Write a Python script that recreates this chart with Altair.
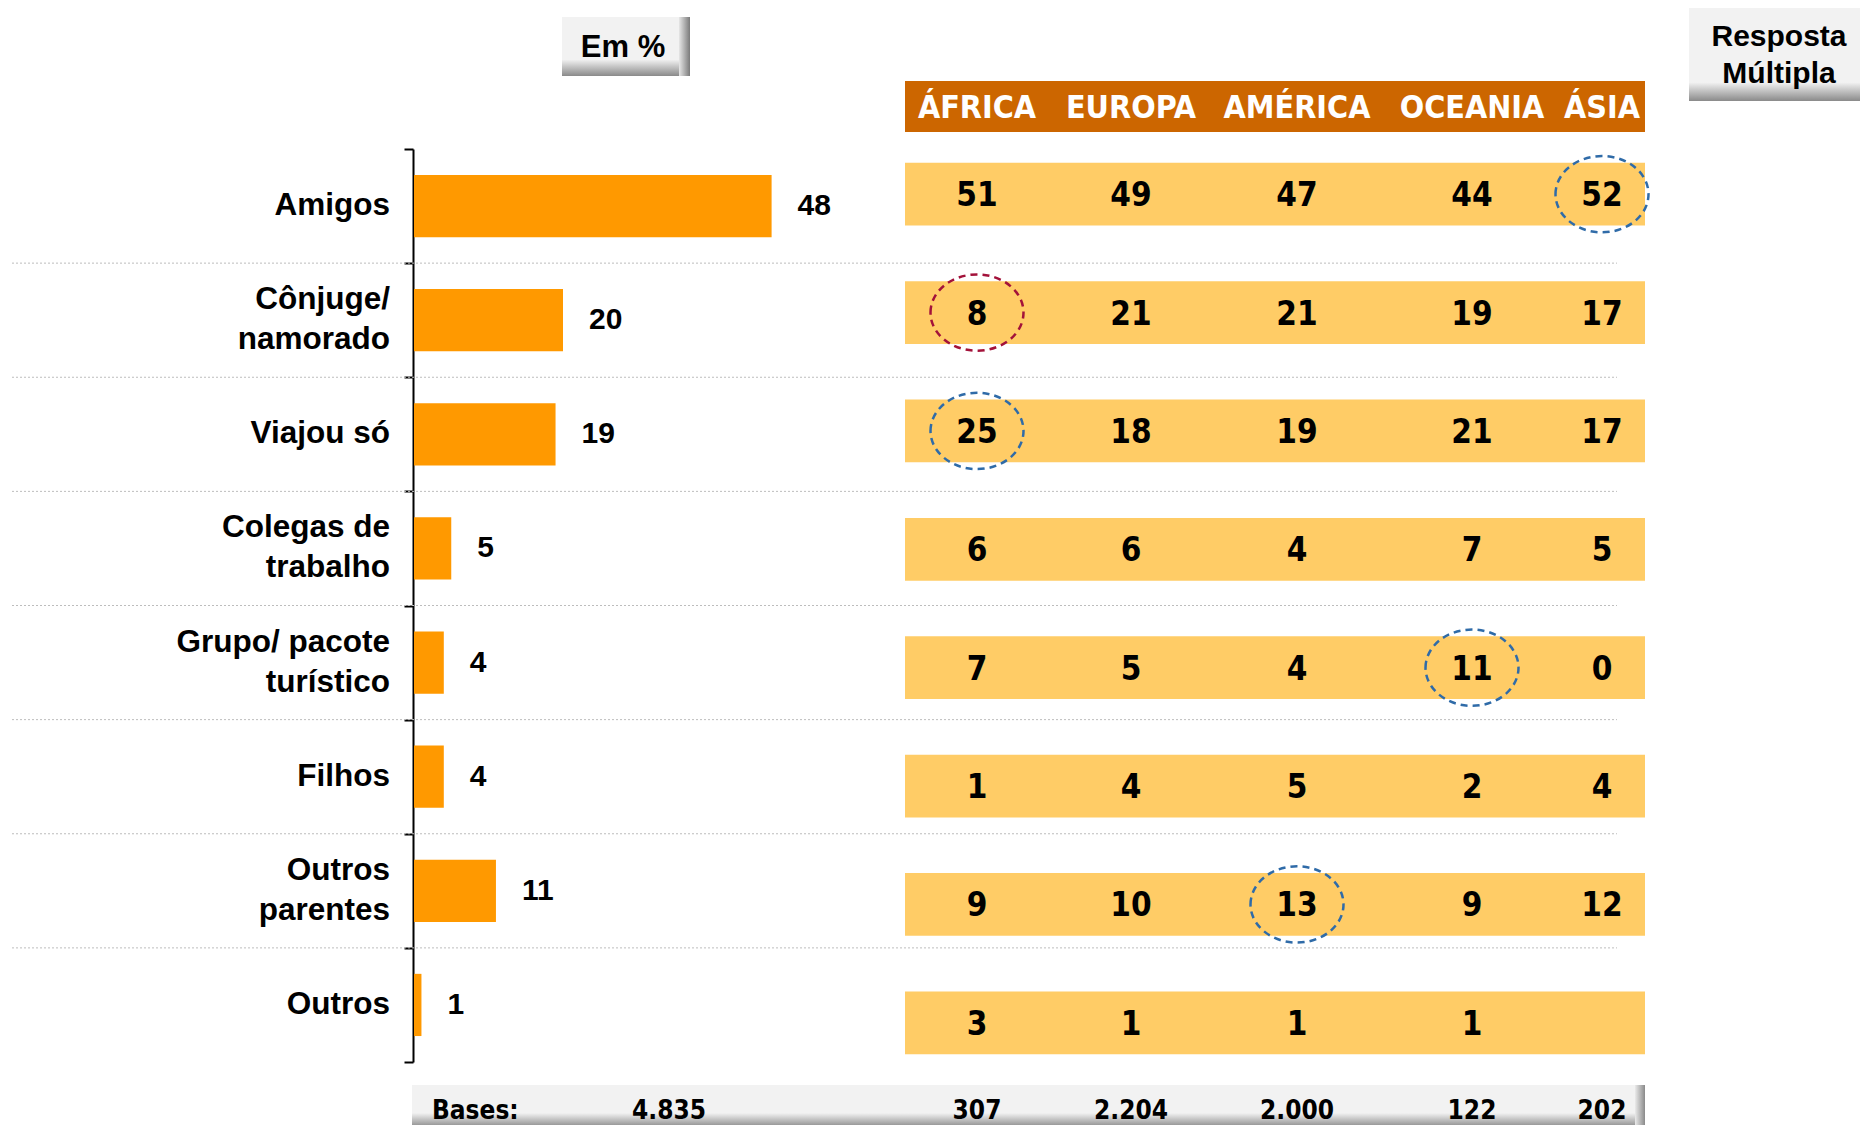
import altair as alt
import pandas as pd

# ---------------- data ----------------
categories = ["Amigos", "Cônjuge/\nnamorado", "Viajou só", "Colegas de\ntrabalho",
              "Grupo/ pacote\nturístico", "Filhos", "Outros\nparentes", "Outros"]
total = [48, 20, 19, 5, 4, 4, 11, 1]

regions = ["ÁFRICA", "EUROPA", "AMÉRICA", "OCEANIA", "ÁSIA"]
africa = [51, 8, 25, 6, 7, 1, 9, 3]
europa = [49, 21, 18, 6, 5, 4, 10, 1]
america = [47, 21, 19, 4, 4, 5, 13, 1]
oceania = [44, 19, 21, 7, 11, 2, 9, 1]
asia = [52, 17, 17, 5, 0, 4, 12, None]

base_label = "Bases:"
base_total = "4.835"
base_regions = ["307", "2.204", "2.000", "122", "202"]

highlight_cats = ["Amigos", "Viajou só", "Grupo/ pacote\nturístico", "Outros\nparentes", "Cônjuge/\nnamorado"]
highlight_regions = ["ÁSIA", "ÁFRICA", "OCEANIA", "AMÉRICA", "ÁFRICA"]
highlight_kind = ["alta", "alta", "alta", "alta", "baixa"]

# ---------------- frames ----------------
left_df = pd.DataFrame({"category": categories, "value": total})
sep_df = pd.DataFrame({"category": categories[1:]})

rows = []
for i, (reg, vals) in enumerate(zip(regions, [africa, europa, america, oceania, asia])):
    for cat, v in zip(categories, vals):
        if v is not None:
            rows.append({"category": cat, "region": reg, "col": i, "value": v})
tab_df = pd.DataFrame(rows)
head_df = pd.DataFrame({"region": regions, "col": list(range(len(regions)))})
bases_df = pd.DataFrame({"base": base_regions, "col": list(range(len(regions)))})
hl_df = pd.DataFrame({"category": highlight_cats,
                      "col": [regions.index(r) for r in highlight_regions],
                      "kind": highlight_kind})
one = pd.DataFrame({"k": [0]})

SANS = "Liberation Sans, Arial, sans-serif"
NARROW = "Liberation Sans Narrow, Arial Narrow, DejaVu Sans Condensed, sans-serif"

# ---------------- category axis, labels, separators (unpadded band scale) ----------------
y_axis_scale = alt.Scale(domain=categories, range=[141, 1054], paddingInner=0, paddingOuter=0)
y_axis = alt.Axis(title=None, orient="left", labels=False,
                  tickBand="extent", tickSize=9, tickColor="black", tickWidth=2,
                  domainColor="black", domainWidth=2, grid=False)
y_cat = alt.Y("category:N", scale=y_axis_scale, axis=y_axis, sort=categories)

separators = alt.Chart(sep_df).mark_rule(color="#BDBDBD", strokeDash=[2, 2], strokeWidth=1).encode(
    y=alt.Y("category:N", scale=y_axis_scale, axis=y_axis, sort=categories, bandPosition=0),
    x=alt.value(-401), x2=alt.value(1204))

def cat_labels(test, dy):
    return alt.Chart(left_df).transform_filter(test).mark_text(
        align="right", baseline="middle", lineBreak="\n", lineHeight=40, dy=dy,
        font=SANS, fontSize=31.5, fontWeight="bold", color="black").encode(
        y=y_cat, x=alt.value(-23), text="category:N")

labels_single = cat_labels("indexof(datum.category, '\\n') < 0", 0)
labels_multi = cat_labels("indexof(datum.category, '\\n') >= 0", -20)
axis_layer = alt.layer(separators, labels_single, labels_multi)

# ---------------- left bar chart ----------------
y_left_scale = alt.Scale(domain=categories, range=[141, 1054], paddingInner=0.455, paddingOuter=0.2275)
y_left = alt.Y("category:N", scale=y_left_scale, axis=None, sort=categories)
x_left = alt.X("value:Q", scale=alt.Scale(domain=[0, 100], range=[1, 746], nice=False, zero=True), axis=None)

bars = alt.Chart(left_df).mark_bar(color="#FF9900").encode(x=x_left, y=y_left)
bar_labels = alt.Chart(left_df).mark_text(align="left", baseline="middle", dx=26, font=SANS,
                                          fontSize=30, fontWeight="bold", color="black").encode(
    x=x_left, y=y_left, text="value:Q")
left = alt.layer(bars, bar_labels)

# ---------------- table ----------------
x_tab = alt.X("col:Q", scale=alt.Scale(domain=[0, 1, 2, 3, 4], range=[564, 718, 884, 1059, 1189],
                                       nice=False, zero=False), axis=None)
y_tab_scale = alt.Scale(domain=categories, range=[127, 1074], paddingInner=0.47, paddingOuter=0.235)
y_tab = alt.Y("category:N", scale=y_tab_scale, axis=None, sort=categories)

row_bands = alt.Chart(left_df).mark_rect(color="#FFCC66").encode(
    y=y_tab, x=alt.value(492), x2=alt.value(1232))
header_bg = alt.Chart(one).mark_rect(color="#CC6600").encode(
    x=alt.value(492), x2=alt.value(1232), y=alt.value(73), y2=alt.value(124))
header_txt = alt.Chart(head_df).mark_text(font=NARROW, fontSize=32, fontWeight="bold",
                                          color="white", baseline="middle").encode(
    x=x_tab, y=alt.value(100), text="region:N")
values = alt.Chart(tab_df).mark_text(font=NARROW, fontSize=33, fontWeight="bold",
                                     color="black", baseline="middle", dy=2).encode(
    x=x_tab, y=y_tab, text="value:Q")
ELLIPSE = "M -1 0 A 1 0.82 0 1 1 1 0 A 1 0.82 0 1 1 -1 0 Z"
circles = alt.Chart(hl_df).mark_point(shape=ELLIPSE, size=93 * 93, filled=False, strokeWidth=2.5,
                                      strokeDash=[7, 5], opacity=1).encode(
    x=x_tab, y=y_tab,
    color=alt.Color("kind:N", scale=alt.Scale(domain=["alta", "baixa"], range=["#2F6BA8", "#A3123A"]),
                    legend=None))
bases_txt = alt.Chart(bases_df).mark_text(font=NARROW, fontSize=26, fontWeight="bold",
                                          color="black", baseline="middle").encode(
    x=x_tab, y=alt.value(1103), text="base:N")
table = alt.layer(row_bands, header_bg, header_txt, values, circles, bases_txt)

# ---------------- decorations ----------------
def grad_v(c1, c2, mid=0.8):
    return alt.Gradient(gradient="linear", x1=0, y1=0, x2=0, y2=1,
                        stops=[alt.GradientStop(color=c1, offset=0),
                               alt.GradientStop(color=c1, offset=mid),
                               alt.GradientStop(color=c2, offset=1)])

def grad_h(c1, c2):
    return alt.Gradient(gradient="linear", x1=0, y1=0, x2=1, y2=0,
                        stops=[alt.GradientStop(color=c1, offset=0),
                               alt.GradientStop(color=c2, offset=1)])

def box(x1, x2, y1, y2, fill):
    return alt.Chart(one).mark_rect(color=fill).encode(
        x=alt.value(x1), x2=alt.value(x2), y=alt.value(y1), y2=alt.value(y2))

em_box = box(149, 277, 9, 68, grad_v("#F2F2F2", "#8A8A8A", 0.72))
em_shadow = box(266, 277, 9, 68, grad_h("#E6E6E6", "#7A7A7A"))
resp_box = box(1276, 1447, 0, 93, grad_v("#F2F2F2", "#8A8A8A", 0.8))
bases_bg = box(-1, 1232, 1077, 1117, grad_v("#F2F2F2", "#9A9A9A", 0.7))
bases_shadow = box(1222, 1232, 1077, 1117, grad_h("#EAEAEA", "#8A8A8A"))

def label(text, x, y, size, font=SANS, align="center"):
    return alt.Chart(one).mark_text(text=text, font=font, fontSize=size, fontWeight="bold",
                                    color="black", align=align, baseline="middle").encode(
        x=alt.value(x), y=alt.value(y))

em_txt = label("Em %", 210, 40, 31)
resp_txt1 = label("Resposta", 1366, 29, 30)
resp_txt2 = label("Múltipla", 1366, 66, 30)
bases_lbl = label(base_label, 19, 1103, 26, NARROW, "left")
bases_tot = label(base_total, 256, 1103, 26, NARROW)

decor_back = alt.layer(em_box, em_shadow, resp_box, bases_bg, bases_shadow)
decor_front = alt.layer(em_txt, resp_txt1, resp_txt2, bases_lbl, bases_tot)

chart = alt.layer(decor_back, axis_layer, left, table, decor_front).resolve_scale(
    x="independent", y="independent", color="independent"
).properties(
    width=1447, height=1117,
    padding={"left": 405, "top": 0, "right": 0, "bottom": 0},
    autosize=alt.AutoSizeParams(type="none"),
    background="white",
).configure_view(strokeWidth=0)

chart.save("out.html", embed_options={"renderer": "svg", "actions": False})
